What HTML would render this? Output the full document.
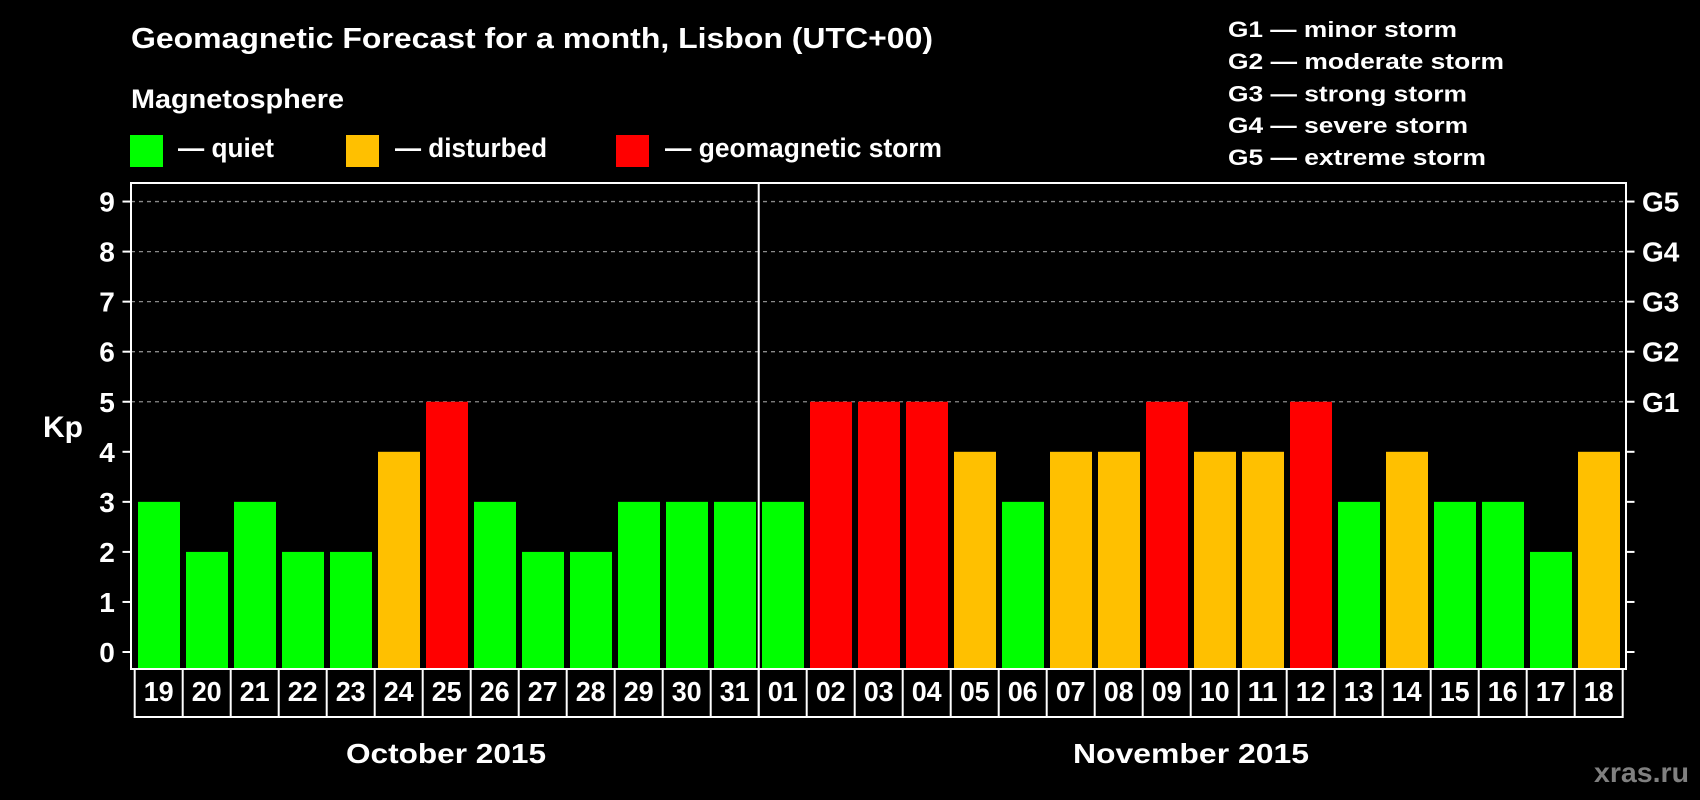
<!DOCTYPE html>
<html><head><meta charset="utf-8"><style>
html,body{margin:0;padding:0;background:#000;width:1700px;height:800px;overflow:hidden}
svg{display:block}
text{font-family:"Liberation Sans",Arial,sans-serif;font-weight:bold;fill:#fff}
</style></head><body>
<svg id="chart" width="1700" height="800" viewBox="0 0 1700 800" xmlns="http://www.w3.org/2000/svg">
<rect x="0" y="0" width="1700" height="800" fill="#000"/>
<text x="131" y="48" font-size="29" textLength="802" lengthAdjust="spacingAndGlyphs">Geomagnetic Forecast for a month, Lisbon (UTC+00)</text>
<text x="131" y="108" font-size="27" textLength="213" lengthAdjust="spacingAndGlyphs">Magnetosphere</text>
<g>
<rect x="130" y="135" width="33" height="32" fill="#00ff00"/>
<text x="178" y="157" font-size="27" textLength="96" lengthAdjust="spacingAndGlyphs">— quiet</text></g>
<g>
<rect x="346" y="135" width="33" height="32" fill="#ffc000"/>
<text x="395" y="157" font-size="27" textLength="152" lengthAdjust="spacingAndGlyphs">— disturbed</text></g>
<g>
<rect x="616" y="135" width="33" height="32" fill="#ff0000"/>
<text x="665" y="157" font-size="27" textLength="277" lengthAdjust="spacingAndGlyphs">— geomagnetic storm</text></g>
<g font-size="22">
<text x="1228" y="37" textLength="229" lengthAdjust="spacingAndGlyphs">G1 — minor storm</text>
<text x="1228" y="69" textLength="276" lengthAdjust="spacingAndGlyphs">G2 — moderate storm</text>
<text x="1228" y="101.5" textLength="239" lengthAdjust="spacingAndGlyphs">G3 — strong storm</text>
<text x="1228" y="133" textLength="240" lengthAdjust="spacingAndGlyphs">G4 — severe storm</text>
<text x="1228" y="165" textLength="258" lengthAdjust="spacingAndGlyphs">G5 — extreme storm</text>
</g>
<g id="grid"></g>
<g id="bars"></g>
<g id="axes"></g>
<text x="43" y="437" font-size="30">Kp</text>
<text x="446" y="763" font-size="28" text-anchor="middle" textLength="200" lengthAdjust="spacingAndGlyphs">October 2015</text>
<text x="1191" y="763" font-size="28" text-anchor="middle" textLength="236" lengthAdjust="spacingAndGlyphs">November 2015</text>
<text x="1594" y="782" font-size="28" textLength="95" lengthAdjust="spacingAndGlyphs" style="fill:#808080">xras.ru</text>
</svg>
<script>
const days = ["19","20","21","22","23","24","25","26","27","28","29","30","31","01","02","03","04","05","06","07","08","09","10","11","12","13","14","15","16","17","18"];
const kpValues = [3,2,3,2,2,4,5,3,2,2,3,3,3,3,5,5,5,4,3,4,4,5,4,4,5,3,4,3,3,2,4];
const yTicks = [0,1,2,3,4,5,6,7,8,9];
const gLabels = ["G1","G2","G3","G4","G5"];
const gLevels = [5,6,7,8,9];
const monthSplit = 13;

const NS = "http://www.w3.org/2000/svg";
const plotL = 131, plotR = 1626, plotT = 183, plotB = 669;
const y0px = 652, unit = 50.05;
const slot0 = 134.7, pitch = 48, barInset = 3.3, barW = 42;
function yScale(v){ return y0px - v*unit; }
function xSlot(i){ return slot0 + i*pitch; }
function color(v){ return v >= 5 ? "#ff0000" : (v >= 4 ? "#ffc000" : "#00ff00"); }
function mk(tag, attrs, parent){ const e=document.createElementNS(NS,tag); for(const k in attrs) e.setAttribute(k,attrs[k]); parent.appendChild(e); return e; }

const grid = document.getElementById("grid");
gLevels.forEach(v=>{
  const l = mk("line",{x1:plotL,x2:plotR,y1:yScale(v),y2:yScale(v),stroke:"#8a8a8a","stroke-width":1.3,"stroke-dasharray":"4 4"},grid);
  
  
});

const bars = document.getElementById("bars");
kpValues.forEach((v,i)=>{
  const top = yScale(v);
  const r = mk("rect",{x:xSlot(i)+barInset,y:top,width:barW,height:plotB-top,fill:color(v)},bars);
  
  
});

const axes = document.getElementById("axes");
const frame = mk("rect",{x:plotL,y:plotT,width:plotR-plotL,height:plotB-plotT,fill:"none",stroke:"#fff","stroke-width":2},axes);


yTicks.forEach(v=>{
  const y = yScale(v);
  const t1 = mk("line",{x1:122.5,x2:plotL,y1:y,y2:y,stroke:"#fff","stroke-width":2},axes);
  
  
  const t2 = mk("line",{x1:plotR,x2:1634.5,y1:y,y2:y,stroke:"#fff","stroke-width":2},axes);
  
  
  const lab = mk("text",{x:107,y:y+10,"font-size":28,"text-anchor":"middle"},axes);
  lab.textContent = String(v);
  
  
});
gLevels.forEach((v,i)=>{
  const lab = mk("text",{x:1642,y:yScale(v)+10,"font-size":28},axes);
  lab.textContent = gLabels[i];
  
  
});
// day label boxes
const boxTop = plotB, boxBot = 717;
const boxes = mk("g",{},axes);


mk("line",{x1:slot0,x2:xSlot(days.length),y1:boxBot,y2:boxBot,stroke:"#fff","stroke-width":2},boxes);
for(let i=0;i<=days.length;i++){
  const x = xSlot(i);
  mk("line",{x1:x,x2:x,y1:boxTop,y2:boxBot+1,stroke:"#fff","stroke-width":2},boxes);
}
days.forEach((d,i)=>{
  const t = mk("text",{x:xSlot(i)+pitch/2,y:701,"font-size":28,"text-anchor":"middle",textLength:30,lengthAdjust:"spacingAndGlyphs"},boxes);
  t.textContent = d;
  
  
});
const div = mk("line",{x1:xSlot(monthSplit),x2:xSlot(monthSplit),y1:plotT,y2:boxBot,stroke:"#fff","stroke-width":2},axes);


</script>
</body></html>
